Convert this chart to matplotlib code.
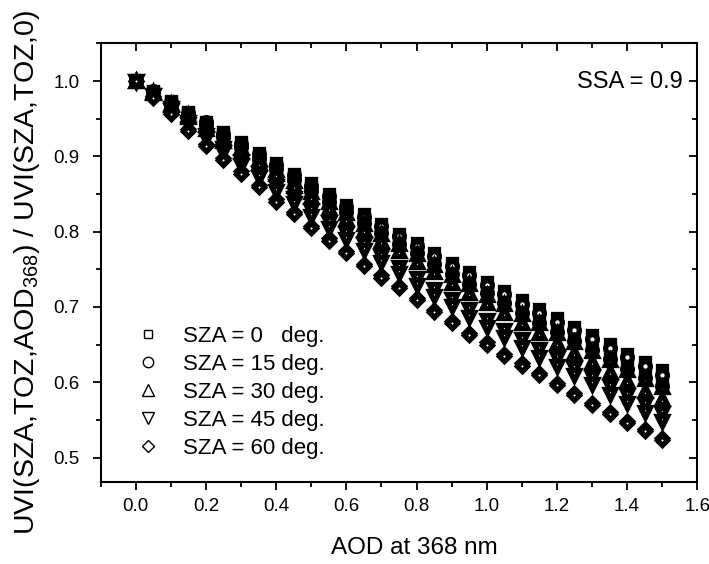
import matplotlib
matplotlib.use("Agg")
import matplotlib.pyplot as plt
from matplotlib.ticker import MultipleLocator, FormatStrFormatter

plt.rcParams['font.family'] = ['Liberation Sans', 'DejaVu Sans']
plt.rcParams['mathtext.fontset'] = 'custom'
plt.rcParams['mathtext.rm'] = 'Liberation Sans'
plt.rcParams['mathtext.it'] = 'Liberation Sans:italic'
plt.rcParams['mathtext.bf'] = 'Liberation Sans:bold'

aod = [0.00, 0.05, 0.10, 0.15, 0.20, 0.25, 0.30, 0.35, 0.40, 0.45, 0.50,
       0.55, 0.60, 0.65, 0.70, 0.75, 0.80, 0.85, 0.90, 0.95, 1.00,
       1.05, 1.10, 1.15, 1.20, 1.25, 1.30, 1.35, 1.40, 1.45, 1.50]

# two TOZ extremes (high ratio / low ratio) per SZA
sza0_hi = [1.000, 0.987, 0.973, 0.959, 0.946, 0.932, 0.919, 0.905, 0.891, 0.877, 0.864,
           0.850, 0.836, 0.823, 0.810, 0.797, 0.785, 0.771, 0.759, 0.746, 0.733,
           0.721, 0.709, 0.697, 0.685, 0.674, 0.663, 0.651, 0.638, 0.627, 0.616]
sza0_lo = [1.000, 0.986, 0.972, 0.957, 0.943, 0.929, 0.915, 0.901, 0.887, 0.872, 0.859,
           0.844, 0.830, 0.817, 0.803, 0.790, 0.778, 0.764, 0.751, 0.738, 0.725,
           0.712, 0.700, 0.687, 0.675, 0.664, 0.652, 0.640, 0.627, 0.616, 0.605]
sza15_hi = [1.000, 0.987, 0.972, 0.958, 0.945, 0.930, 0.917, 0.903, 0.889, 0.875, 0.861,
            0.847, 0.833, 0.820, 0.807, 0.794, 0.781, 0.767, 0.755, 0.742, 0.729,
            0.717, 0.704, 0.692, 0.680, 0.669, 0.658, 0.645, 0.633, 0.621, 0.610]
sza15_lo = [1.000, 0.985, 0.970, 0.955, 0.941, 0.926, 0.912, 0.897, 0.883, 0.868, 0.854,
            0.840, 0.826, 0.811, 0.798, 0.784, 0.771, 0.757, 0.744, 0.731, 0.718,
            0.705, 0.692, 0.679, 0.667, 0.655, 0.643, 0.631, 0.618, 0.606, 0.595]
sza30_hi = [1.000, 0.985, 0.970, 0.955, 0.941, 0.925, 0.911, 0.897, 0.882, 0.867, 0.853,
            0.839, 0.825, 0.810, 0.797, 0.783, 0.770, 0.756, 0.743, 0.730, 0.716,
            0.704, 0.690, 0.678, 0.665, 0.653, 0.641, 0.629, 0.616, 0.604, 0.593]
sza30_lo = [1.000, 0.984, 0.968, 0.952, 0.937, 0.921, 0.906, 0.891, 0.876, 0.861, 0.846,
            0.831, 0.817, 0.802, 0.788, 0.774, 0.760, 0.746, 0.732, 0.719, 0.705,
            0.692, 0.678, 0.665, 0.652, 0.639, 0.627, 0.614, 0.602, 0.589, 0.578]
sza45_hi = [1.000, 0.982, 0.964, 0.946, 0.929, 0.911, 0.894, 0.878, 0.861, 0.845, 0.829,
            0.813, 0.798, 0.783, 0.768, 0.753, 0.738, 0.724, 0.710, 0.697, 0.683,
            0.670, 0.657, 0.644, 0.632, 0.619, 0.607, 0.595, 0.583, 0.571, 0.559]
sza45_lo = [1.000, 0.981, 0.962, 0.943, 0.925, 0.906, 0.888, 0.872, 0.854, 0.838, 0.821,
            0.805, 0.790, 0.775, 0.760, 0.745, 0.729, 0.715, 0.701, 0.687, 0.673,
            0.660, 0.647, 0.634, 0.622, 0.609, 0.597, 0.585, 0.572, 0.560, 0.548]
sza60_hi = [1.000, 0.980, 0.959, 0.937, 0.917, 0.898, 0.880, 0.862, 0.843, 0.826, 0.808,
            0.791, 0.774, 0.757, 0.742, 0.728, 0.712, 0.696, 0.681, 0.666, 0.653,
            0.638, 0.625, 0.612, 0.599, 0.586, 0.573, 0.561, 0.549, 0.538, 0.526]
sza60_lo = [1.000, 0.977, 0.956, 0.934, 0.914, 0.895, 0.877, 0.859, 0.840, 0.823, 0.805,
            0.788, 0.771, 0.754, 0.739, 0.725, 0.709, 0.693, 0.678, 0.663, 0.650,
            0.635, 0.622, 0.609, 0.596, 0.583, 0.570, 0.558, 0.546, 0.535, 0.523]

labels = ["SZA = 0   deg.", "SZA = 15 deg.", "SZA = 30 deg.", "SZA = 45 deg.", "SZA = 60 deg."]
markers = ["s", "o", "^", "v", "D"]
series = [(sza0_hi, sza0_lo), (sza15_hi, sza15_lo), (sza30_hi, sza30_lo),
          (sza45_hi, sza45_lo), (sza60_hi, sza60_lo)]
plot_sizes = [6, 7, 7.5, 7.5, 5.6]
leg_sizes = [6, 7.5, 8, 8, 6.5]

rect = [0.1419, 0.1461, 0.8416, 0.7769]
fig = plt.figure(figsize=(7.09, 5.64), dpi=100)
ax = fig.add_axes(rect)

handles = []
for (hi, lo), m, lab, ms, lms in zip(series, markers, labels, plot_sizes, leg_sizes):
    for vals in (hi, lo):
        ax.plot(aod, vals, linestyle="none", marker=m, markersize=ms,
                markerfacecolor="white", markeredgecolor="black", markeredgewidth=3.8)
    h, = ax.plot([], [], linestyle="none", marker=m, markersize=lms,
                 markerfacecolor="white", markeredgecolor="black", markeredgewidth=1.0,
                 label=lab)
    handles.append(h)

xlim = (-0.1, 1.6)
ylim = (0.468, 1.05)
ax.set_xlim(*xlim)
ax.set_ylim(*ylim)
ax.xaxis.set_major_locator(MultipleLocator(0.2))
ax.xaxis.set_minor_locator(MultipleLocator(0.1))
ax.yaxis.set_major_locator(MultipleLocator(0.1))
ax.yaxis.set_minor_locator(MultipleLocator(0.05))
ax.xaxis.set_major_formatter(FormatStrFormatter('%.1f'))
ax.yaxis.set_major_formatter(FormatStrFormatter('%.1f'))
ax.tick_params(axis='both', which='both', direction='out', width=1.3, labelsize=13.5)
ax.tick_params(axis='both', which='major', length=6)
ax.tick_params(axis='both', which='minor', length=3.5)
ax.tick_params(axis='x', which='major', pad=6)
ax.tick_params(axis='y', which='major', pad=9)
for s in ax.spines.values():
    s.set_linewidth(1.5)

# overlay axes carrying inward ticks on top and right
ax2 = fig.add_axes(rect, frameon=False)
ax2.set_xlim(*xlim)
ax2.set_ylim(*ylim)
ax2.xaxis.set_major_locator(MultipleLocator(0.2))
ax2.xaxis.set_minor_locator(MultipleLocator(0.1))
ax2.yaxis.set_major_locator(MultipleLocator(0.1))
ax2.yaxis.set_minor_locator(MultipleLocator(0.05))
ax2.tick_params(which='both', direction='in', width=1.3,
                top=True, right=True, bottom=False, left=False,
                labeltop=False, labelright=False, labelbottom=False, labelleft=False)
ax2.tick_params(which='major', length=6)
ax2.tick_params(which='minor', length=3.5)

fig.text(414 / 709, 1 - 548 / 564, "AOD at 368 nm", fontsize=17.5, ha="center", va="center")
fig.text(27 / 709, 1 - 272 / 564, r"UVI(SZA,TOZ,AOD$_{\mathrm{368}}$) / UVI(SZA,TOZ,0)",
         fontsize=20.5, rotation=90, ha="center", va="center")

ax.text(0.975, 0.912, "SSA = 0.9", transform=ax.transAxes, ha="right", va="center",
        fontsize=17)

ax.legend(handles=handles, loc="upper left", bbox_to_anchor=(0.042, 0.376),
          frameon=False, fontsize=16, handletextpad=0.98, labelspacing=0.32,
          handlelength=1.2, borderaxespad=0, borderpad=0.4)

fig.savefig("out.png", dpi=100)
